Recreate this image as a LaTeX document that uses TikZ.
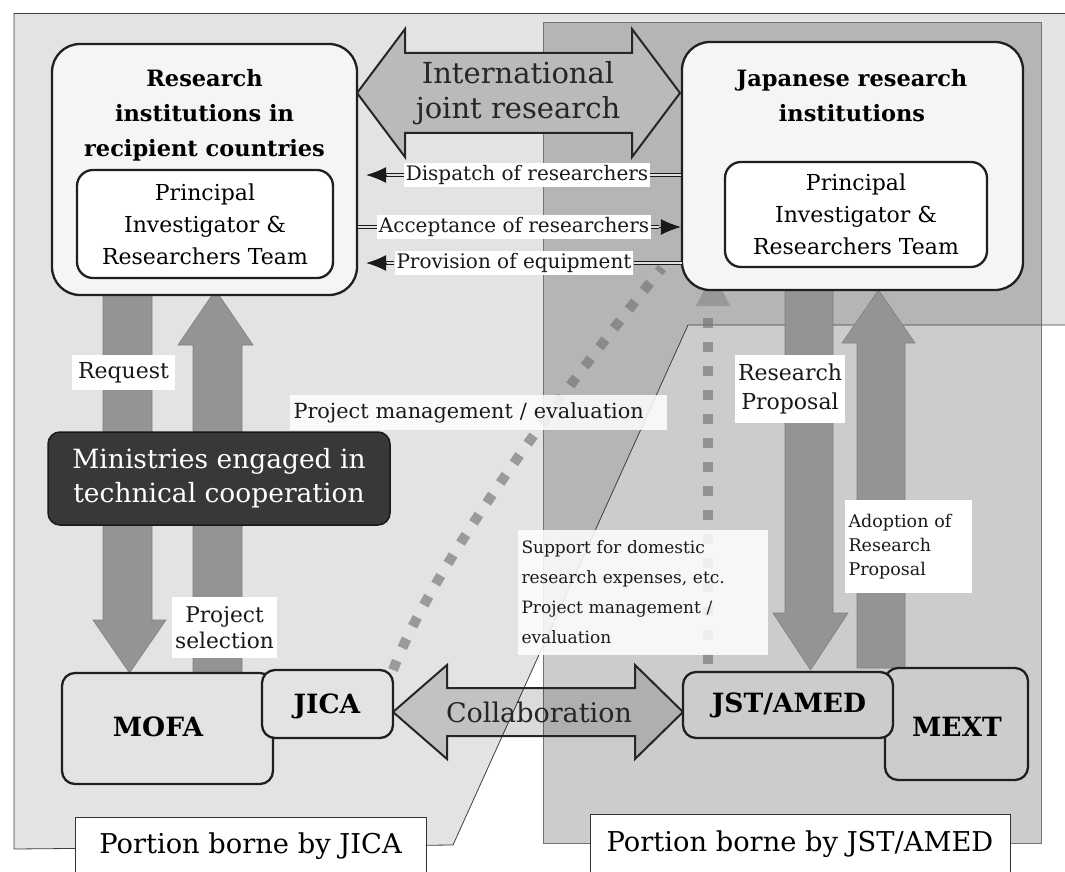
\documentclass[tikz,border=0pt]{standalone}
\usepackage{fontspec}
\setmainfont{DejaVu Serif}
\usetikzlibrary{arrows.meta,calc}
\begin{document}
\begin{tikzpicture}[x=1pt,y=-1pt,
  region/.style={draw=black!75, line width=0.8pt},
  bigbox/.style={draw=black!88, line width=2.3pt, fill=black!4, rounded corners=28pt, inner sep=0pt},
  innerbox/.style={draw=black!88, line width=2.3pt, fill=white, rounded corners=16pt, inner sep=0pt, align=center, font=\fontsize{22}{32}\selectfont},
  orgbox/.style={draw=black!88, line width=2.3pt, rounded corners=13pt, inner sep=0pt},
  orgtxt/.style={font=\fontsize{26.5}{30}\selectfont\bfseries, inner sep=0pt},
  titletxt/.style={align=center, font=\fontsize{22.5}{35}\selectfont\bfseries, inner sep=0pt},
  blockarrow/.style={draw=black!85, line width=2pt, fill=black!27},
  vertarrow/.style={draw=black!50, line width=0.6pt, fill=black!42},
  lbl/.style={fill=white, inner sep=2pt, text=black!90, font=\fontsize{20}{24}\selectfont},
  dline/.style={draw=black!90, double=black!12, double distance=2pt, line width=1.4pt},
  headarrow/.style={draw=black!90, line width=1pt, -{Latex[length=20pt,width=16pt]}},
  dotline/.style={draw=black!55, line width=10pt, dash pattern=on 10pt off 14pt, draw opacity=0.65},
  portion/.style={draw=black!80, line width=0.8pt, fill=white, inner sep=0pt, font=\fontsize{27.3}{30}\selectfont}
]
\useasboundingbox (0,0) rectangle (1065,872);
\fill[white] (0,0) rectangle (1065,872);

% regions
\fill[black, fill opacity=0.11] (14,13) -- (1075,13) -- (1075,325) -- (688,325) -- (453,845) -- (14,849) -- cycle;
\fill[black, fill opacity=0.2] (543,22) rectangle (1041,843);
\draw[region] (14,13) -- (1075,13);
\draw[region] (14,13) -- (14,849) -- (453,845) -- (688,325) -- (1075,325);
\draw[draw=black!55, line width=0.8pt] (543,22) rectangle (1041,843);

% dotted arrows
\draw[dotline] (393,670) .. controls (435,560) and (575,375) .. (662,268);
\draw[dotline] (708,664) -- (708,306);
\fill[black!45, opacity=0.7] (696,306) -- (713,272) -- (730,306) -- cycle;

% vertical block arrows
\filldraw[vertarrow] (103,295) -- (152,295) -- (152,620) -- (166,620) -- (129.5,673) -- (93,620) -- (103,620) -- cycle;
\filldraw[vertarrow] (193,673) -- (242,673) -- (242,345) -- (253,345) -- (215.5,290) -- (178,345) -- (193,345) -- cycle;
\filldraw[vertarrow] (785,290) -- (833,290) -- (833,613) -- (848,613) -- (810.5,670) -- (773,613) -- (785,613) -- cycle;
\filldraw[vertarrow] (857,668) -- (905,668) -- (905,343) -- (915,343) -- (878.5,290) -- (842,343) -- (857,343) -- cycle;

% big boxes
\node[bigbox, minimum width=305pt, minimum height=251pt] (L) at (204.5,169.5) {};
\node[titletxt] (Lt) at (204.5,115) {Research\\institutions in\\recipient countries};
\node[innerbox, minimum width=256pt, minimum height=108pt] (Li) at (205,224) {Principal\\Investigator \&\\Researchers Team};
\node[bigbox, minimum width=341pt, minimum height=248pt] (R) at (852.5,166) {};
\node[titletxt] (Rt) at (852,96) {Japanese research\\institutions};
\node[innerbox, minimum width=262pt, minimum height=105pt] (Ri) at (856,214.5) {Principal\\Investigator \&\\Researchers Team};

% international joint research
\filldraw[blockarrow] (357,93) -- (405,29) -- (405,53) -- (632,53) -- (632,29) -- (680,93) -- (632,157) -- (632,133) -- (405,133) -- (405,157) -- cycle;
\node[align=center, font=\fontsize{29}{35}\selectfont, text=black!85] (IJ) at (518,93) {International\\joint research};

% small arrows
\node[lbl] (disp) at (527,175) {Dispatch of researchers};
\node[lbl] (acc) at (514,227) {Acceptance of researchers};
\node[lbl] (prov) at (514,263) {Provision of equipment};
\coordinate (dispL) at ($(L.east|-disp)+(28,0)$);
\draw[dline] (disp.west) -- (dispL);
\draw[headarrow] (dispL) -- ($(L.east|-disp)+(8,0)$);
\draw[dline] (disp.east) -- (R.west|-disp);
\coordinate (accR) at ($(R.west|-acc)+(-22,0)$);
\draw[dline] (L.east|-acc) -- (acc.west);
\draw[dline] (acc.east) -- (accR);
\draw[headarrow] (accR) -- (R.west|-acc);
\coordinate (provL) at ($(L.east|-prov)+(28,0)$);
\draw[dline] (prov.west) -- (provL);
\draw[headarrow] (provL) -- ($(L.east|-prov)+(8,0)$);
\draw[dline] (prov.east) -- ($(R.west|-prov)+(1,0)$);

% ministries
\node[draw=black!90, line width=1.5pt, fill=black!78, rounded corners=12pt, minimum width=342pt, minimum height=93pt, align=center, text=white, font=\fontsize{26.5}{34}\selectfont] (M) at (219,478.5) {Ministries engaged in\\technical cooperation};

% labels
\node[lbl, font=\fontsize{22}{26}\selectfont, minimum width=103pt, minimum height=35pt] (req) at (123.5,372.5) {Request};
\node[lbl, font=\fontsize{21.7}{26}\selectfont, minimum width=105pt, minimum height=61pt, align=center] (psel) at (224.5,627.5) {Project\\selection};
\node[lbl, font=\fontsize{22}{29}\selectfont, minimum width=110pt, minimum height=68pt, align=center] (rprop) at (790,389) {Research\\Proposal};
\node[lbl, font=\fontsize{17.5}{24}\selectfont, text width=120pt, inner xsep=3.5pt, minimum height=93pt, align=left] (adopt) at (908.5,546.5) {Adoption of\\Research\\Proposal};
\node[lbl, fill opacity=0.85, text opacity=1, font=\fontsize{20.8}{24}\selectfont, text width=370pt, inner xsep=3.5pt, minimum height=35pt, align=left] (pme) at (478.5,412.5) {Project management / evaluation};
\node[lbl, fill opacity=0.85, text opacity=1, font=\fontsize{17}{30}\selectfont, text width=243pt, inner xsep=3.5pt, minimum height=125pt, align=left] (supp) at (643,592.5) {Support for domestic\\research expenses, etc.\\Project management /\\evaluation};

% collaboration
\filldraw[draw=black!85, line width=2pt, fill=black, fill opacity=0.14] (393,712) -- (447,665) -- (447,688) -- (635,688) -- (635,665) -- (683,712) -- (635,759) -- (635,736) -- (447,736) -- (447,759) -- cycle;
\node[font=\fontsize{27}{30}\selectfont, text=black!85] (coll) at (539,712) {Collaboration};

% organisations
\node[orgbox, fill=black!11, minimum width=211pt, minimum height=111pt] (MOFA) at (167.5,728.5) {};
\node[orgtxt] (MOFAt) at (158,727) {MOFA};
\node[orgbox, fill=black!11, minimum width=131pt, minimum height=68pt] (JICA) at (327.5,704) {};
\node[orgtxt] (JICAt) at (327,706) {JICA};
\node[orgbox, fill=black!20, minimum width=143pt, minimum height=112pt] (MEXT) at (956.5,724) {};
\node[orgtxt] (MEXTt) at (957,727) {MEXT};
\node[orgbox, fill=black!20, minimum width=210pt, minimum height=66pt] (JST) at (788,705) {};
\node[orgtxt] (JSTt) at (789,705) {JST/AMED};

% portions
\node[portion, minimum width=351pt, minimum height=58pt] (pJICA) at (250.5,846) {Portion borne by JICA};
\node[portion, minimum width=420pt, minimum height=61pt] (pJST) at (800,844.5) {Portion borne by JST/AMED};
\end{tikzpicture}
\end{document}
